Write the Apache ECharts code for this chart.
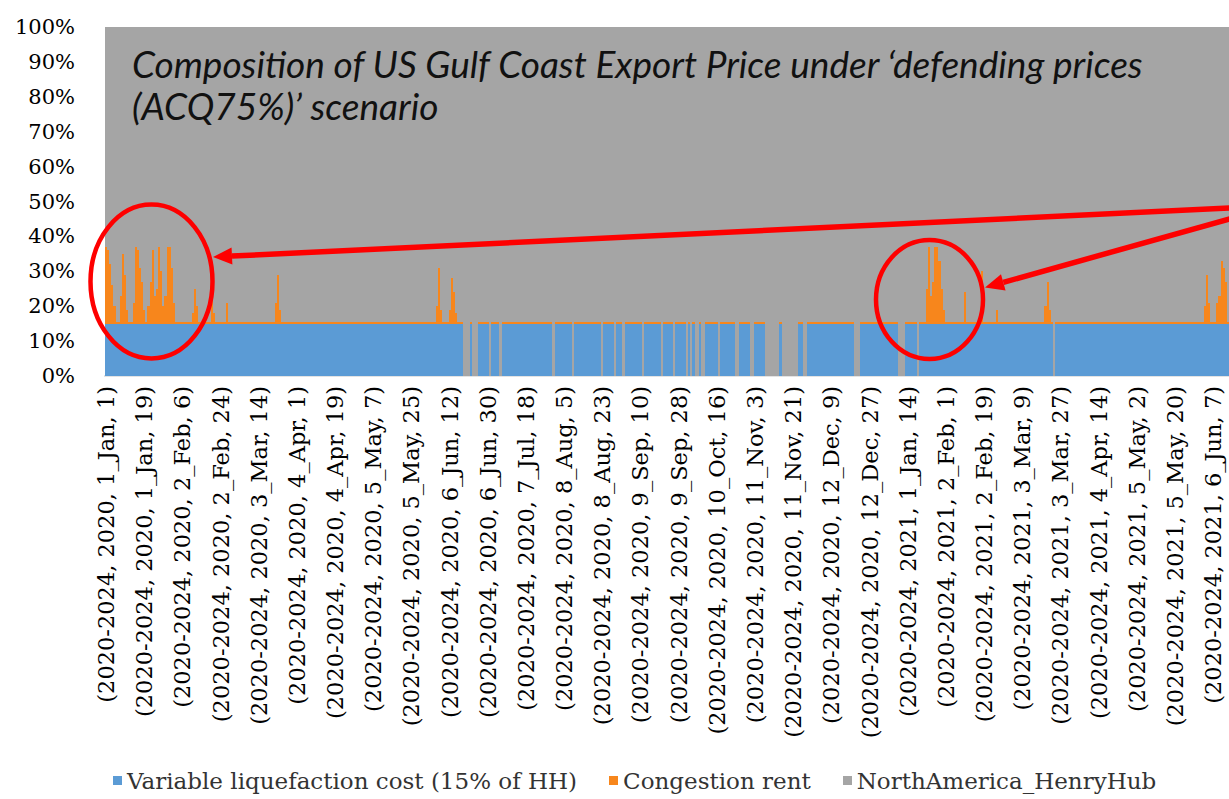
<!DOCTYPE html>
<html><head><meta charset="utf-8">
<script src="https://cdn.jsdelivr.net/npm/echarts@6/dist/echarts.min.js"></script>
<style>
html,body{margin:0;padding:0;background:#fff}
#c{width:1229px;height:799px}
#c svg path{shape-rendering:crispEdges}
#c svg path[stroke="#fe0000"],#c svg path[fill="#fe0000"],#c svg ellipse,#c svg line,#c svg polygon{shape-rendering:geometricPrecision}
</style>
</head><body><div id="c"></div>
<script>
// ---------------- data ----------------
const monthNames = ['Jan','Feb','Mar','Apr','May','Jun','Jul','Aug','Sep','Oct','Nov','Dec'];
const monthDays  = [31,28,31,30,31,30,31,31,30,31,30,31];   // model calendar has no Feb 29
const scenarioTag = '2020-2024';
const years = [2020, 2021];
const dayCount = 530;            // days visible in the cropped chart
const labelEvery = 18;           // one tick label every 18 days
const seriesNames = ['Variable liquefaction cost (15% of HH)', 'Congestion rent', 'NorthAmerica_HenryHub'];
const yTicks = [0,10,20,30,40,50,60,70,80,90,100];

// share of export price (%), one value per day
const liquefaction = [
15,15,15,15,15,15,15,15,15,15, 15,15,15,15,15,15,15,15,15,15, 15,15,15,15,15,15,15,15,15,15, 15,15,15,15,15,15,15,15,15,15,
15,15,15,15,15,15,15,15,15,15, 15,15,15,15,15,15,15,15,15,15, 15,15,15,15,15,15,15,15,15,15, 15,15,15,15,15,15,15,15,15,15,
15,15,15,15,15,15,15,15,15,15, 15,15,15,15,15,15,15,15,15,15, 15,15,15,15,15,15,15,15,15,15, 15,15,15,15,15,15,15,15,15,15,
15,15,15,15,15,15,15,15,15,15, 15,15,15,15,15,15,15,15,15,15, 15,15,15,15,15,15,15,15,15,15, 15,15,15,15,15,15,15,15,15,15,
15,15,15,15,15,15,15,15,15,0,  0,0,15,0,0,0,15,15,15,15,       15,0,15,15,15,15,0,15,15,15,    15,15,15,15,15,15,15,15,15,15,
15,15,15,15,15,15,15,15,15,15, 15,0,15,15,15,15,15,15,15,15,   0,15,15,15,15,15,15,15,15,15,   15,15,15,15,0,15,15,15,15,15,
0,15,15,15,0,15,15,15,15,15,   15,15,15,0,15,15,15,15,15,15,   15,15,0,15,15,15,15,15,0,15,    15,15,15,15,0,15,0,15,0,0,
15,0,0,15,15,15,15,15,15,0,    15,15,15,15,15,15,15,0,0,15,    15,15,15,15,0,0,15,15,15,15,    15,0,0,0,0,0,0,0,15,0,
0,0,0,0,0,0,0,15,15,0,         0,15,15,15,15,15,15,15,15,15,   15,15,15,15,15,15,15,15,15,15,  15,15,15,0,0,0,15,15,15,15,
15,15,15,15,15,15,15,15,15,15, 15,15,15,15,0,0,0,15,15,15,     15,15,15,0,15,15,15,15,15,15,   15,15,15,15,15,15,15,15,15,15,
15,15,15,15,15,15,15,15,15,15, 15,15,15,15,15,15,15,15,15,15,  15,15,15,15,15,15,15,15,15,15,  15,15,15,15,15,15,15,15,15,15,
15,15,15,15,15,15,15,0,15,15,  15,15,15,15,15,15,15,15,15,15,  15,15,15,15,15,15,15,15,15,15,  15,15,15,15,15,15,15,15,15,15,
15,15,15,15,15,15,15,15,15,15, 15,15,15,15,15,15,15,15,15,15,  15,15,15,15,15,15,15,15,15,15,  15,15,15,15,15,15,15,15,15,15,
15,15,15,15,15,15,15,15,15,15
];
const congestion = [
22,21,17,11,5,.4,.4,8,20,14,   4,.4,.4,6,22,21,16,12,4,.4,    5,12,21,8,10,22,15,5,8,22,     22,16,6,.4,.4,.4,.4,.4,.4,.4,
.4,3,10,5,.4,.4,.4,.4,.4,.4,   7,3,.4,.4,.4,.4,.4,6,.4,.4,    .4,.4,.4,.4,.4,.4,.4,.4,.4,.4, .4,.4,.4,.4,.4,.4,.4,.4,.4,.4,
6,14,4,.4,.4,.4,.4,.4,.4,.4,   .4,.4,.4,.4,.4,.4,.4,.4,.4,.4, .4,.4,.4,.4,.4,.4,.4,.4,.4,.4, .4,.4,.4,.4,.4,.4,.4,.4,.4,.4,
.4,.4,.4,.4,.4,.4,.4,.4,.4,.4, .4,.4,.4,.4,.4,.4,.4,.4,.4,.4, .4,.4,.4,.4,.4,.4,.4,.4,.4,.4, .4,.4,.4,.4,.4,.4,5,16,4,.4,
.4,.4,4,13,9,3,.4,.4,.4,0,     0,0,.4,0,0,0,.4,.4,.4,.4,       .4,0,.4,.4,.4,.4,0,.4,.4,.4,    .4,.4,.4,.4,.4,.4,.4,.4,.4,.4,
.4,.4,.4,.4,.4,.4,.4,.4,.4,.4, .4,0,.4,.4,.4,.4,.4,.4,.4,.4,   0,.4,.4,.4,.4,.4,.4,.4,.4,.4,   .4,.4,.4,.4,0,.4,.4,.4,.4,.4,
0,.4,.4,.4,0,.4,.4,.4,.4,.4,   .4,.4,.4,0,.4,.4,.4,.4,.4,.4,   .4,.4,0,.4,.4,.4,.4,.4,0,.4,    .4,.4,.4,.4,0,.4,0,.4,0,0,
.4,0,0,.4,.4,.4,.4,.4,.4,0,    .4,.4,.4,.4,.4,.4,.4,0,0,.4,    .4,.4,.4,.4,0,0,.4,.4,.4,.4,    .4,0,0,0,0,0,0,0,.4,0,
0,0,0,0,0,0,0,.4,.4,0,         0,.4,.4,.4,.4,.4,.4,.4,.4,.4,   .4,.4,.4,.4,.4,.4,.4,.4,.4,.4,  .4,.4,.4,0,0,0,.4,.4,.4,.4,
.4,.4,.4,.4,.4,.4,.4,.4,.4,.4, .4,.4,.4,.4,0,0,0,.4,.4,.4,     .4,.4,.4,0,.4,.4,.4,10,22,8,    12,22,22,18,10,4,.4,.4,.4,.4,
.4,.4,.4,.4,.4,9,.4,.4,.4,.4,  .4,.4,.4,15,.4,.4,.4,.4,.4,.4,  4,.4,.4,.4,.4,.4,.4,.4,.4,.4,   .4,.4,.4,.4,.4,.4,.4,.4,.4,.4,
.4,.4,.4,5,12,4,.4,0,.4,.4,    .4,.4,.4,.4,.4,.4,.4,.4,.4,.4,  .4,.4,.4,.4,.4,.4,.4,.4,.4,.4,  .4,.4,.4,.4,.4,.4,.4,.4,.4,.4,
.4,.4,.4,.4,.4,.4,.4,.4,.4,.4, .4,.4,.4,.4,.4,.4,.4,.4,.4,.4,  .4,.4,.4,.4,.4,.4,.4,.4,.4,.4,  .4,.4,.4,.4,.4,.4,.4,.4,5,14,
6,.4,.4,.4,6,8,18,16,12,.4
];
// Henry Hub share is the remainder of the 100% composition
const henryHub = liquefaction.map((b, i) => +(100 - b - congestion[i]).toFixed(2));

// category labels: (2020-2024, year, month_Mon, day)
const categories = [];
outer: for (const y of years) {
  for (let m = 0; m < 12; m++) {
    for (let d = 1; d <= monthDays[m]; d++) {
      categories.push('(' + scenarioTag + ', ' + y + ', ' + (m + 1) + '_' + monthNames[m] + ', ' + d + ')');
      if (categories.length >= dayCount) break outer;
    }
  }
}

// ---------------- chart ----------------
const colors = ['#5b9bd5', '#f7861c', '#a5a5a5'];
const RED = '#fe0000';
const chart = echarts.init(document.getElementById('c'), null, {renderer: 'svg'});
const gridL = 105, gridT = 27, gridH = 349, gridW = 1127;

function arrow(x1, y1, tx, ty) {
  const dx = tx - x1, dy = ty - y1, L = Math.hypot(dx, dy);
  const ux = dx / L, uy = dy / L, hl = 19, hw = 8.5;
  const bx = tx - ux * hl, by = ty - uy * hl;
  return [
    {type: 'line', shape: {x1: x1, y1: y1, x2: bx, y2: by}, style: {stroke: RED, lineWidth: 5.5}, z: 100},
    {type: 'polygon', shape: {points: [[tx, ty], [bx - uy * hw, by + ux * hw], [bx + uy * hw, by - ux * hw]]}, style: {fill: RED}, z: 100}
  ];
}

chart.setOption({
  animation: false,
  color: colors,
  title: {
    text: 'Composition of US Gulf Coast Export Price under \u2018defending prices\n(ACQ75%)\u2019 scenario',
    left: 127, top: 37,
    textStyle: {fontFamily: "Lato, 'Noto Sans', sans-serif", fontStyle: 'italic', fontWeight: 'normal', fontSize: 37, lineHeight: 42, color: '#111'}
  },
  legend: {
    left: 108, top: 764,
    icon: 'rect', itemWidth: 9, itemHeight: 9, itemGap: 32,
    textStyle: {fontFamily: "'DejaVu Serif', serif", fontSize: 23, color: '#333'},
    data: seriesNames
  },
  grid: {left: gridL, top: gridT, width: gridW, height: gridH, containLabel: false},
  xAxis: {
    type: 'category', data: categories,
    axisLine: {show: true, lineStyle: {color: '#e3e3e3', width: 2}},
    axisTick: {show: false},
    axisLabel: {
      rotate: 90, margin: 10,
      interval: function (idx) { return idx % labelEvery === 0; },
      fontFamily: "'DejaVu Serif', serif", fontSize: 22.5, color: '#000'
    }
  },
  yAxis: {
    type: 'value', min: yTicks[0], max: yTicks[yTicks.length - 1], interval: 10,
    axisLine: {show: false}, axisTick: {show: false}, splitLine: {show: false},
    axisLabel: {formatter: '{value}%', margin: 30, fontFamily: "'DejaVu Serif', serif", fontSize: 21, color: '#000'}
  },
  series: [
    {name: seriesNames[0], type: 'bar', stack: 'p', data: liquefaction, barCategoryGap: '0%', itemStyle: {color: colors[0]}},
    {name: seriesNames[1], type: 'bar', stack: 'p', data: congestion, itemStyle: {color: colors[1]}},
    {name: seriesNames[2], type: 'bar', stack: 'p', data: henryHub, itemStyle: {color: colors[2]}}
  ],
  graphic: [
    {type: 'ellipse', shape: {cx: 151.5, cy: 281.5, rx: 61, ry: 77}, style: {fill: 'none', stroke: RED, lineWidth: 4.5}, z: 100},
    {type: 'ellipse', shape: {cx: 929.5, cy: 299.5, rx: 53.5, ry: 59.5}, style: {fill: 'none', stroke: RED, lineWidth: 4.5}, z: 100}
  ].concat(arrow(1240, 207.5, 213, 257)).concat(arrow(1240, 216, 985, 287.5))
});
</script></body></html>
